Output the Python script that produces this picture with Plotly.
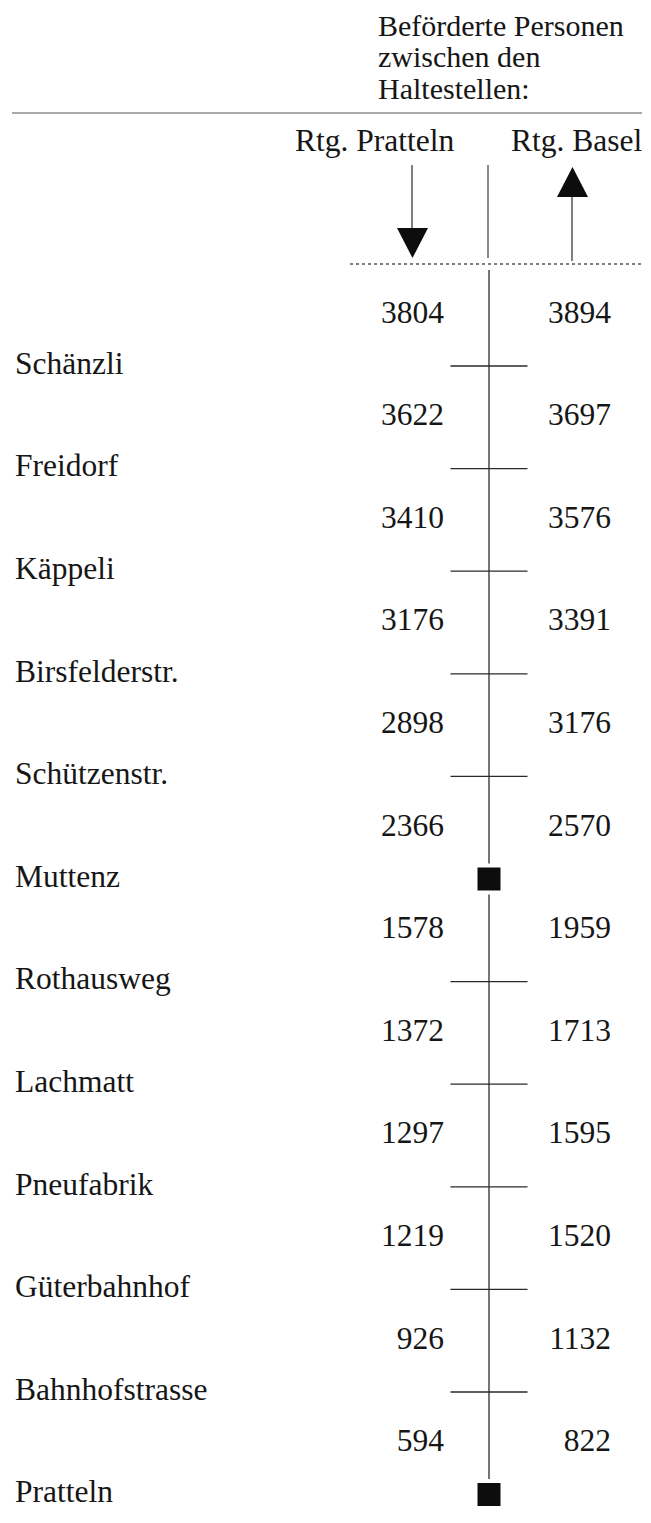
import plotly.graph_objects as go

# ---------------- data ----------------
stations = ["Schänzli", "Freidorf", "Käppeli", "Birsfelderstr.", "Schützenstr.",
            "Muttenz", "Rothausweg", "Lachmatt", "Pneufabrik", "Güterbahnhof",
            "Bahnhofstrasse", "Pratteln"]
rtg_pratteln = [3804, 3622, 3410, 3176, 2898, 2366, 1578, 1372, 1297, 1219, 926, 594]
rtg_basel = [3894, 3697, 3576, 3391, 3176, 2570, 1959, 1713, 1595, 1520, 1132, 822]
terminals = ["Muttenz", "Pratteln"]
title_lines = ["Beförderte Personen", "zwischen den", "Haltestellen:"]
col_heads = ["Rtg. Pratteln", "Rtg. Basel"]

# ---------------- layout helpers ----------------
PAGE_W, PAGE_H = 651, 1523
OFF = 8                      # default body margin of the html page
W, H = PAGE_W - OFF, PAGE_H - OFF
ROW0_PX = 366.0
STEP_PX = 102.6
FONT = "Liberation Serif"
FS = 31.5
FS_TITLE = 30
INK = "#161616"
LINE = "#2a2a2a"
CX = 489


def py(p):
    """page pixel row -> y data value"""
    return (p - ROW0_PX) / STEP_PX


idx = list(range(len(stations)))
num_y = [i - 0.5 for i in idx]

fig = go.Figure()

# centre line of the route
fig.add_trace(go.Scatter(x=[CX, CX], y=[py(270), idx[-1]], mode="lines",
                         line=dict(color=LINE, width=1.3), hoverinfo="skip"))

# stop ticks
tick_y = [i for i, s in zip(idx, stations) if s not in terminals]
fig.add_trace(go.Scatter(x=[CX] * len(tick_y), y=tick_y, mode="markers",
                         marker=dict(symbol="line-ew", size=55,
                                     line=dict(color=LINE, width=1.3)),
                         hoverinfo="skip"))

# terminal squares
term_y = [i for i, s in zip(idx, stations) if s in terminals]
fig.add_trace(go.Scatter(x=[CX] * len(term_y), y=term_y, mode="markers",
                         marker=dict(symbol="square", size=27, color="#0d0d0d",
                                     line=dict(color="white", width=4)),
                         hoverinfo="skip"))

# numbers
fig.add_trace(go.Scatter(x=[444] * len(idx), y=num_y, mode="text",
                         text=[str(v) for v in rtg_pratteln],
                         textposition="middle left",
                         textfont=dict(family=FONT, size=FS, color=INK),
                         hoverinfo="skip"))
fig.add_trace(go.Scatter(x=[611] * len(idx), y=num_y, mode="text",
                         text=[str(v) for v in rtg_basel],
                         textposition="middle left",
                         textfont=dict(family=FONT, size=FS, color=INK),
                         hoverinfo="skip"))

# station names
fig.add_trace(go.Scatter(x=[15] * len(idx), y=idx, mode="text",
                         text=stations, textposition="middle right",
                         textfont=dict(family=FONT, size=FS, color=INK),
                         hoverinfo="skip"))

# ---------------- header ----------------
shapes = []
shapes.append(dict(type="line", x0=12, x1=642, y0=py(113), y1=py(113),
                   line=dict(color="#8c8c8c", width=1.5)))
# down arrow (Rtg. Pratteln)
shapes.append(dict(type="line", x0=412, x1=412, y0=py(165), y1=py(230),
                   line=dict(color=LINE, width=1.2)))
shapes.append(dict(type="path",
                   path=f"M 397,{py(228)} L 428,{py(228)} L 412.5,{py(258)} Z",
                   fillcolor="#0d0d0d", line=dict(width=0)))
# up arrow (Rtg. Basel)
shapes.append(dict(type="line", x0=572, x1=572, y0=py(195), y1=py(261),
                   line=dict(color=LINE, width=1.2)))
shapes.append(dict(type="path",
                   path=f"M 557,{py(197)} L 588,{py(197)} L 572.5,{py(167)} Z",
                   fillcolor="#0d0d0d", line=dict(width=0)))
# centre stub in header
shapes.append(dict(type="line", x0=CX - 1, x1=CX - 1, y0=py(165), y1=py(258),
                   line=dict(color=LINE, width=1.1)))
# dotted rule
shapes.append(dict(type="line", x0=350, x1=642, y0=py(264), y1=py(264),
                   line=dict(color="#555555", width=1.5, dash="dot")))

annotations = []
for t, c in zip(title_lines, [25, 56.5, 88]):
    annotations.append(dict(x=376, y=py(c), xref="x", yref="y", text=t,
                            showarrow=False, xanchor="left", yanchor="middle",
                            font=dict(family=FONT, size=FS_TITLE, color=INK)))
for t, x in zip(col_heads, [293, 509]):
    annotations.append(dict(x=x, y=py(140), xref="x", yref="y", text=t,
                            showarrow=False, xanchor="left", yanchor="middle",
                            font=dict(family=FONT, size=FS, color=INK)))

fig.update_layout(
    width=W, height=H,
    margin=dict(l=0, r=0, t=0, b=0),
    paper_bgcolor="white", plot_bgcolor="white",
    showlegend=False,
    shapes=shapes, annotations=annotations,
    xaxis=dict(range=[OFF, PAGE_W], visible=False, fixedrange=True),
    yaxis=dict(range=[py(PAGE_H), py(OFF)], visible=False, fixedrange=True),
)

fig.write_html("out.html")
